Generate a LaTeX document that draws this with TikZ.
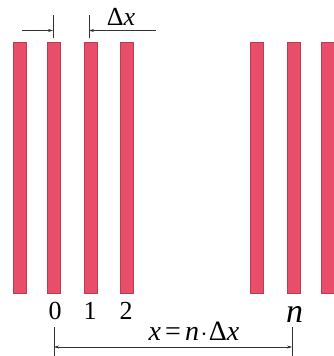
\documentclass[tikz,border=0pt]{standalone}
\usepackage{fontspec}
\setmainfont{Liberation Serif}
\usetikzlibrary{arrows.meta}
\definecolor{barfill}{RGB}{232,78,106}
\definecolor{barline}{RGB}{190,60,82}
\begin{document}
\begin{tikzpicture}[x=1pt,y=-1pt,
  bar/.style={draw=barline,line width=0.6pt,fill=barfill,minimum width=13pt,minimum height=251pt,inner sep=0pt,outer sep=0pt,anchor=north west},
  dim/.style={line width=0.5pt,draw=black!80},
  arr/.style={dim,-{Stealth[length=5pt,width=3pt]}},
  lbl/.style={inner sep=0pt,font=\fontsize{26}{28}\selectfont}]
\useasboundingbox (0,0) rectangle (334,356);
\node[bar] (b1) at (13,42) {};
\node[bar] (b0) at (47,42) {};
\node[bar] (bone) at (84,42) {};
\node[bar] (btwo) at (120,42) {};
\node[bar] (b5) at (250,42) {};
\node[bar] (bn) at (287,42) {};
\node[bar] (b7) at (321,42) {};
% top dimension
\coordinate (t0a) at (53,15);
\coordinate (t0b) at (53,38);
\coordinate (t1a) at (89,15);
\coordinate (t1b) at (89,38);
\coordinate (la) at (22,30.5);
\coordinate (lb) at (53,30.5);
\coordinate (ra) at (156,30.5);
\coordinate (rb) at (89,30.5);
\draw[dim] (t0a) -- (t0b);
\draw[dim] (t1a) -- (t1b);
\draw[arr] (la) -- (lb);
\draw[arr] (ra) -- (rb);
\node[lbl] (dx) at (121,17) {Δ\textit{x}};
% labels
\node[lbl] (l0) at (55,311) {0};
\node[lbl] (l1) at (90,311) {1};
\node[lbl] (l2) at (126,311) {2};
\node[lbl,font=\fontsize{34}{36}\selectfont\itshape] (ln) at (294.5,314) {n};
% bottom dimension
\coordinate (p0a) at (54,327);
\coordinate (p0b) at (54,356);
\coordinate (pna) at (292,327);
\coordinate (pnb) at (292,356);
\coordinate (h0) at (54,347);
\coordinate (hn) at (292,347);
\draw[dim] (p0a) -- (p0b);
\draw[dim] (pna) -- (pnb);
\draw[dim,{Stealth[length=5pt,width=3pt]}-{Stealth[length=5pt,width=3pt]}] (h0) -- (hn);
\node[lbl,font=\fontsize{28}{30}\selectfont] (eq) at (194,331.5) {\textit{x}\hspace{0.15em}=\hspace{0.15em}\textit{n}\hspace{0.05em}$\cdot$\hspace{0.05em}Δ\textit{x}};
\end{tikzpicture}
\end{document}
